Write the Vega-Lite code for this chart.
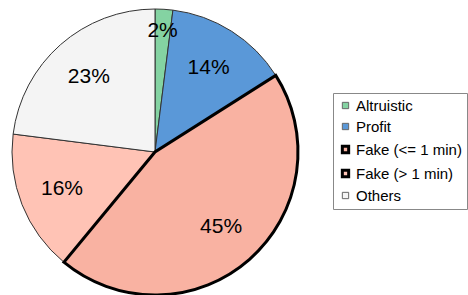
{
  "$schema": "https://vega.github.io/schema/vega-lite/v6.json",
  "width": 310,
  "height": 304,
  "padding": 0,
  "background": "white",
  "config": {"view": {"stroke": null}},
  "data": {"values": [
    {"category": "Altruistic", "value": 2, "label": "2%"},
    {"category": "Profit", "value": 14, "label": "14%"},
    {"category": "Fake (<= 1 min)", "value": 45, "label": "45%"},
    {"category": "Fake (> 1 min)", "value": 16, "label": "16%"},
    {"category": "Others", "value": 23, "label": "23%"}
  ]},
  "transform": [{"window": [{"op": "row_number", "as": "rank"}]}],
  "encoding": {
    "theta": {"field": "value", "type": "quantitative", "stack": true},
    "order": {"field": "rank", "type": "quantitative"}
  },
  "layer": [
    {
      "mark": {"type": "arc", "outerRadius": 143, "stroke": "#333333", "strokeWidth": 1},
      "encoding": {
        "color": {
          "field": "category", "type": "nominal",
          "sort": ["Altruistic", "Profit", "Fake (<= 1 min)", "Fake (> 1 min)", "Others"],
          "scale": {
            "domain": ["Altruistic", "Profit", "Fake (<= 1 min)", "Fake (> 1 min)", "Others"],
            "range": ["#84d3a2", "#5a98d8", "#f9b2a2", "#ffc3b5", "#f4f4f4"]
          },
          "legend": {
            "title": null,
            "orient": "none",
            "legendX": 333,
            "legendY": 93,
            "padding": 5,
            "strokeColor": "#888888",
            "fillColor": "white",
            "symbolType": "square",
            "symbolSize": 40,
            "symbolStrokeColor": "#555555",
            "symbolStrokeWidth": 1,
            "labelFont": "Liberation Sans",
            "labelFontSize": 15,
            "labelColor": "black",
            "labelOffset": 3,
            "rowPadding": 5,
            "labelLimit": 200,
            "encode": {
              "symbols": {"update": {
                "strokeWidth": {"signal": "test(/^Fake/, '' + datum.value) ? 3 : 1"},
                "stroke": {"signal": "test(/^Fake/, '' + datum.value) ? 'black' : '#666666'"}
              }}
            }
          }
        }
      }
    },
    {
      "mark": {"type": "arc", "outerRadius": 143, "fillOpacity": 0, "stroke": "black"},
      "encoding": {
        "strokeWidth": {
          "condition": {"test": "datum.category === 'Fake (<= 1 min)'", "value": 3},
          "value": 0
        }
      }
    },
    {
      "mark": {"type": "text", "radius": 100, "font": "Liberation Sans", "fontSize": 21, "color": "black"},
      "encoding": {
        "text": {"field": "label"},
        "opacity": {"condition": {"test": "datum.category === 'Altruistic'", "value": 0}, "value": 1}
      }
    },
    {
      "mark": {"type": "text", "radius": 121, "font": "Liberation Sans", "fontSize": 21, "color": "black"},
      "encoding": {
        "text": {"field": "label"},
        "opacity": {"condition": {"test": "datum.category === 'Altruistic'", "value": 1}, "value": 0}
      }
    }
  ]
}
